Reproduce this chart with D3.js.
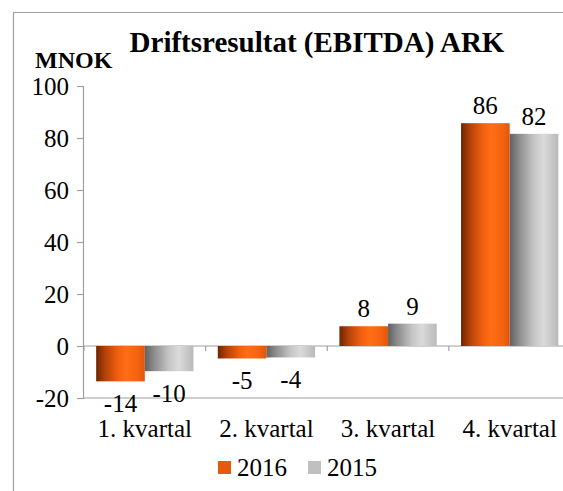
<!DOCTYPE html>
<html>
<head>
<script src="https://cdn.jsdelivr.net/npm/d3@7"></script>
</head>
<body style="margin:0">
<script>
let categories = ["1. kvartal", "2. kvartal", "3. kvartal", "4. kvartal"];
let series_names = ["2016", "2015"];
let values_2016 = [-13.6, -4.8, 7.6, 85.7];
let values_2015 = [-9.7, -4.4, 8.6, 81.6];
let y_ticks = [-20, 0, 20, 40, 60, 80, 100];

let chart_width = 563;
let chart_height = 491;
let serif_font = "Times New Roman";

let svg = d3.select("body")
    .append("svg")
    .attr("width", chart_width)
    .attr("height", chart_height)
    .attr("font-family", serif_font);

// gradients for the cylinder look
let defs = svg.append("defs");
function add_gradient(id, stops) {
    let g = defs.append("linearGradient")
        .attr("id", id)
        .attr("x1", "0%").attr("x2", "100%")
        .attr("y1", "0%").attr("y2", "0%");
    for (let s of stops) {
        g.append("stop").attr("offset", s[0]).attr("stop-color", s[1]);
    }
}
add_gradient("grad_2016", [["0%", "#6e2500"], ["18%", "#b2410a"], ["45%", "#f2600f"], ["62%", "#ff6d16"], ["85%", "#f4630f"], ["100%", "#e0560c"]]);
add_gradient("grad_2015", [["0%", "#626262"], ["20%", "#8e8e8e"], ["50%", "#c6c6c6"], ["70%", "#dadada"], ["100%", "#b9b9b9"]]);

let color_map = { "2016": "url(#grad_2016)", "2015": "url(#grad_2015)" };
let legend_color = { "2016": "#e55a0e", "2015": "#c0c0c0" };

// outer frame
svg.append("path")
    .attr("d", "M13.5," + chart_height + " V12.5 H" + chart_width)
    .attr("fill", "none")
    .attr("stroke", "#a0a0a0")
    .attr("stroke-width", 1.2);

let xScale = d3.scaleBand()
    .domain(categories)
    .range([84, 570.5])
    .paddingInner(0)
    .paddingOuter(0);

let yScale = d3.scaleLinear()
    .domain([-20, 100])
    .range([398, 86]);

let inner = d3.scaleBand()
    .domain(series_names)
    .range([0, xScale.bandwidth()])
    .paddingInner(0)
    .paddingOuter(0.25);

// zero line and bottom line
svg.append("line")
    .attr("x1", 84).attr("x2", chart_width)
    .attr("y1", yScale(0)).attr("y2", yScale(0))
    .attr("stroke", "#a0a0a0").attr("stroke-width", 1.2);
svg.append("line")
    .attr("x1", 84).attr("x2", chart_width)
    .attr("y1", yScale(-20)).attr("y2", yScale(-20))
    .attr("stroke", "#a0a0a0").attr("stroke-width", 1.2);

// category ticks on the zero line
svg.selectAll(".xtick")
    .data(categories)
    .enter()
    .append("line")
    .attr("class", "xtick")
    .attr("x1", function(d) { return xScale(d); })
    .attr("x2", function(d) { return xScale(d); })
    .attr("y1", yScale(0))
    .attr("y2", yScale(0) + 5)
    .attr("stroke", "#a0a0a0").attr("stroke-width", 1.2);

// y axis
let y_axis = svg.append("g")
    .attr("transform", "translate(83,0)")
    .call(d3.axisLeft(yScale)
        .tickValues(y_ticks)
        .tickFormat(function(d) { return String(d); })
        .tickSize(6)
        .tickPadding(8));
y_axis.attr("font-family", serif_font).attr("font-size", 25);
y_axis.select(".domain").attr("stroke", "#a0a0a0").attr("stroke-width", 1.2);
y_axis.selectAll(".tick line").attr("stroke", "#a0a0a0").attr("stroke-width", 1.2);
y_axis.selectAll(".tick text")
    .attr("font-family", serif_font)
    .attr("font-size", 25)
    .attr("fill", "#000");

// bars
let bar_data = [];
for (let i = 0; i < categories.length; i++) {
    bar_data.push({ "cat": categories[i], "series": "2016", "value": values_2016[i] });
    bar_data.push({ "cat": categories[i], "series": "2015", "value": values_2015[i] });
}

svg.selectAll(".bar")
    .data(bar_data)
    .enter()
    .append("rect")
    .attr("class", "bar")
    .attr("x", function(d) { return xScale(d.cat) + inner(d.series); })
    .attr("width", inner.bandwidth())
    .attr("y", function(d) { return yScale(Math.max(0, d.value)); })
    .attr("height", function(d) { return Math.abs(yScale(d.value) - yScale(0)); })
    .attr("fill", function(d) { return color_map[d.series]; });

// value labels
svg.selectAll(".val")
    .data(bar_data)
    .enter()
    .append("text")
    .attr("class", "val")
    .attr("text-anchor", "middle")
    .attr("font-family", serif_font)
    .attr("font-size", 25)
    .attr("x", function(d) { return xScale(d.cat) + inner(d.series) + inner.bandwidth() / 2; })
    .attr("y", function(d) {
        if (d.value < 0) return yScale(d.value) + 31;
        return yScale(d.value) - 9;
    })
    .text(function(d) { return Math.round(d.value); });

// category labels
svg.selectAll(".cat")
    .data(categories)
    .enter()
    .append("text")
    .attr("class", "cat")
    .attr("text-anchor", "middle")
    .attr("font-family", serif_font)
    .attr("font-size", 25)
    .attr("x", function(d) { return xScale(d) + xScale.bandwidth() / 2; })
    .attr("y", 437)
    .text(function(d) { return d; });

// title and unit
svg.append("text")
    .attr("x", 317)
    .attr("y", 52)
    .attr("text-anchor", "middle")
    .attr("font-family", serif_font)
    .attr("font-size", 29)
    .attr("font-weight", "bold")
    .text("Driftsresultat (EBITDA) ARK");

svg.append("text")
    .attr("x", 35)
    .attr("y", 68)
    .attr("font-family", serif_font)
    .attr("font-size", 24)
    .attr("font-weight", "bold")
    .text("MNOK");

// legend
let legend = svg.selectAll(".legend")
    .data(series_names)
    .enter()
    .append("g")
    .attr("class", "legend")
    .attr("transform", function(d, i) { return "translate(" + (218 + i * 90) + ",461)"; });

legend.append("rect")
    .attr("width", 13)
    .attr("height", 13)
    .attr("fill", function(d) { return legend_color[d]; });

legend.append("text")
    .attr("x", 19)
    .attr("y", 14.5)
    .attr("font-family", serif_font)
    .attr("font-size", 25)
    .text(function(d) { return d; });
</script>
</body>
</html>
